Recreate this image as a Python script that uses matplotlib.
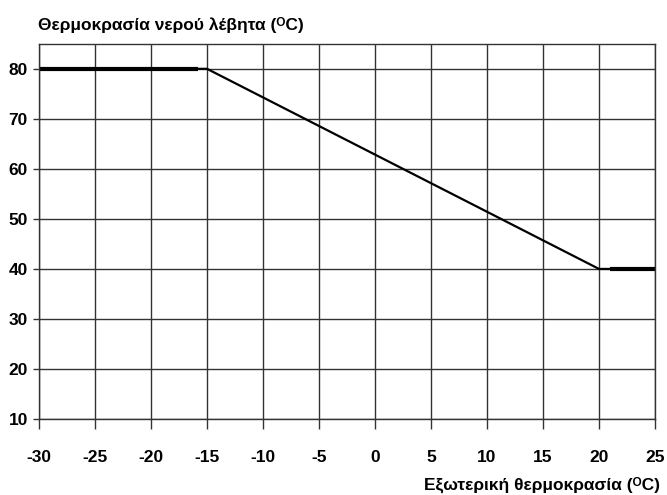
import matplotlib.pyplot as plt

# heating curve: outdoor temp -> boiler water temp
t_out = [-30, -15, 20, 25]
t_water = [80, 80, 40, 40]

# flat parts drawn heavier in the original
flat_lo_x = [-30, -15.8]
flat_lo_y = [80, 80]
flat_hi_x = [21, 25]
flat_hi_y = [40, 40]

xticks = list(range(-30, 30, 5))
yticks = list(range(10, 90, 10))

plt.rcParams['font.family'] = ['Liberation Sans Narrow', 'Liberation Sans', 'DejaVu Sans']
plt.rcParams['font.weight'] = 'bold'

fig = plt.figure(figsize=(6.67, 4.95), dpi=100)
ax = fig.add_axes([0.0585, 0.1535, 0.9235, 0.758])

ax.plot(t_out, t_water, color="black", lw=1.6, solid_capstyle="butt")
ax.plot(flat_lo_x, flat_lo_y, color="black", lw=3, solid_capstyle="butt")
ax.plot(flat_hi_x, flat_hi_y, color="black", lw=3, solid_capstyle="butt")

ax.set_xlim(-30, 25)
ax.set_ylim(10, 85)
ax.set_xticks(xticks)
ax.set_yticks(yticks)
ax.set_xticklabels([str(v) for v in xticks])
ax.grid(True, color="#333333", lw=1)
ax.tick_params(axis="x", labelsize=12.5, length=7, width=1, color="#333333", pad=15)
ax.tick_params(axis="y", labelsize=12.5, length=4, width=1, color="#333333", pad=4)
for s in ax.spines.values():
    s.set_color("#333333")
    s.set_linewidth(1)

fig.text(0.057, 0.949, "Θερμοκρασία νερού λέβητα (\u1d3cC)", fontsize=12.5, fontweight="bold", ha="left", va="center")
fig.text(0.99, 0.02, "Εξωτερική θερμοκρασία (\u1d3cC)", fontsize=12.5, fontweight="bold", ha="right", va="center")

fig.savefig("out.png", dpi=100)
